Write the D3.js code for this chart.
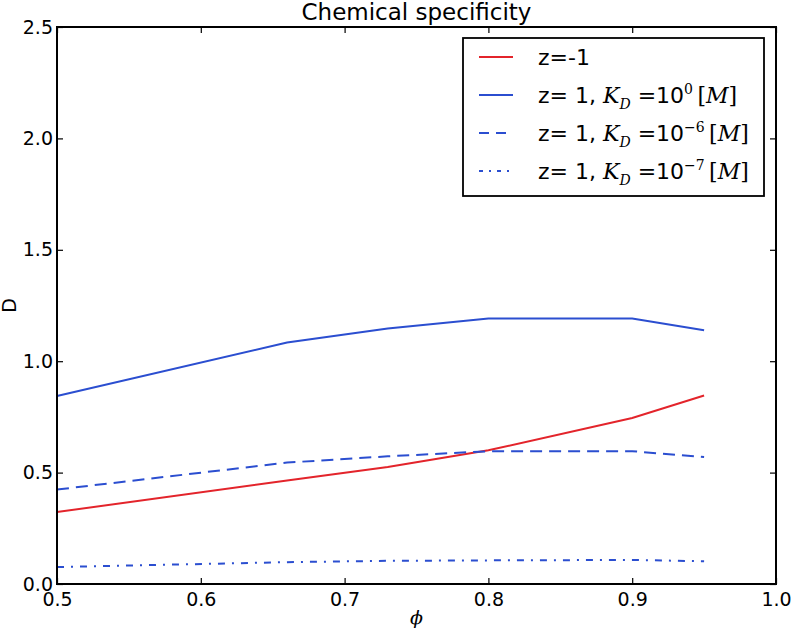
<!DOCTYPE html>
<html>
<head>
<meta charset="utf-8">
<script src="https://cdn.jsdelivr.net/npm/d3@7"></script>
<style>
body { margin: 0; background: #fff; }
text { font-family: "DejaVu Sans", sans-serif; }
</style>
</head>
<body>
<div id="chart"></div>
<script>
// data
var phi = [0.5, 0.66, 0.73, 0.8, 0.9, 0.95];
var zMinus1 = [0.323, 0.465, 0.525, 0.600, 0.745, 0.846];
var kd0 = [0.844, 1.084, 1.147, 1.192, 1.192, 1.139];
var kd6 = [0.424, 0.545, 0.573, 0.596, 0.596, 0.570];
var kd7 = [0.076, 0.098, 0.104, 0.106, 0.108, 0.102];
var xTicks = [0.5, 0.6, 0.7, 0.8, 0.9, 1.0];
var yTicks = [0.0, 0.5, 1.0, 1.5, 2.0, 2.5];

var W = 793, H = 631;
var margin = {top: 27, right: 17, bottom: 47, left: 57};
var width = W - margin.left - margin.right;
var height = H - margin.top - margin.bottom;

var svg = d3.select('#chart').append('svg')
  .attr('width', W).attr('height', H);

var g = svg.append('g')
  .attr('transform', 'translate(' + margin.left + ',' + margin.top + ')');

var x = d3.scaleLinear().domain([0.5, 1.0]).range([0, width]);
var y = d3.scaleLinear().domain([0, 2.5]).range([height, 0]);

var series = [
  {vals: zMinus1, color: '#e3242b', dash: null, ldash: null},
  {vals: kd0, color: '#2b4ed0', dash: null, ldash: null},
  {vals: kd6, color: '#2b4ed0', dash: '12,7', ldash: '10,7'},
  {vals: kd7, color: '#2b4ed0', dash: '7,7,2,7', ldash: '4,6,2,6'}
];

var line = d3.line()
  .x(function(d){ return x(d[0]); })
  .y(function(d){ return y(d[1]); });

series.forEach(function(s){
  g.append('path')
    .datum(phi.map(function(p, i){ return [p, s.vals[i]]; }))
    .attr('fill', 'none')
    .attr('stroke', s.color)
    .attr('stroke-width', 2)
    .attr('stroke-dasharray', s.dash)
    .attr('d', line);
});

// axes with inward ticks on all sides
var fmt = d3.format('.1f');
var tl = 6;
g.append('g').attr('transform', 'translate(0,' + height + ')')
  .call(d3.axisBottom(x).tickValues(xTicks).tickFormat(fmt).tickSizeInner(-tl).tickSizeOuter(0).tickPadding(8.5));
g.append('g').call(d3.axisTop(x).tickValues(xTicks).tickFormat('').tickSizeInner(-tl).tickSizeOuter(0));
g.append('g')
  .call(d3.axisLeft(y).tickValues(yTicks).tickFormat(fmt).tickSizeInner(-tl).tickSizeOuter(0).tickPadding(4));
g.append('g').attr('transform', 'translate(' + width + ',0)')
  .call(d3.axisRight(y).tickValues(yTicks).tickFormat('').tickSizeInner(-tl).tickSizeOuter(0));

g.selectAll('.domain').remove();
g.selectAll('.tick line').attr('stroke', '#000').attr('stroke-width', 1.2);
g.selectAll('.tick text').attr('font-size', 19).attr('fill', '#000')
  .style('font-family', '"DejaVu Sans", sans-serif');

g.append('rect')
  .attr('width', width).attr('height', height)
  .attr('fill', 'none').attr('stroke', '#000').attr('stroke-width', 2);

// title and labels
svg.append('text')
  .attr('x', margin.left + width / 2).attr('y', 20)
  .attr('text-anchor', 'middle').attr('font-size', 23)
  .text('Chemical specificity');

svg.append('text')
  .attr('transform', 'translate(15.5,' + (margin.top + height / 2) + ') rotate(-90)')
  .attr('text-anchor', 'middle').attr('font-size', 19)
  .text('D');

svg.append('text')
  .attr('x', margin.left + width / 2).attr('y', 624)
  .attr('text-anchor', 'middle').attr('font-size', 19)
  .style('font-family', '"DejaVu Serif", serif').style('font-style', 'italic')
  .text('\u03d5');

// legend
var legendLabels = ['z=-1', 'z= 1, ', 'z= 1, ', 'z= 1, '];
var legendExp = [null, '0', '\u22126', '\u22127'];

var lg = svg.append('g').attr('transform', 'translate(463,38)');
lg.append('rect').attr('width', 301).attr('height', 158)
  .attr('fill', '#fff').attr('stroke', '#000').attr('stroke-width', 1.8);

series.forEach(function(s, i){
  var ry = 19 + i * 38;
  lg.append('line')
    .attr('x1', 16).attr('x2', 50).attr('y1', ry).attr('y2', ry)
    .attr('stroke', s.color).attr('stroke-width', 2)
    .attr('stroke-dasharray', s.ldash);
  var t = lg.append('text').attr('x', 75).attr('y', ry + 8).attr('font-size', 22);
  t.append('tspan').text(legendLabels[i]);
  if (legendExp[i] != null) {
    t.append('tspan').style('font-family', '"DejaVu Serif", serif').style('font-style', 'italic').text('K');
    t.append('tspan').attr('dy', 6).attr('font-size', 14)
      .style('font-family', '"DejaVu Serif", serif').style('font-style', 'italic').text('D');
    t.append('tspan').attr('dy', -6).text(' =10');
    t.append('tspan').attr('dy', -9).attr('font-size', 14)
      .style('font-family', '"DejaVu Serif", serif').text(legendExp[i]);
    t.append('tspan').attr('dy', 9)
      .style('font-family', '"DejaVu Serif", serif').text('\u2009[');
    t.append('tspan')
      .style('font-family', '"DejaVu Serif", serif').style('font-style', 'italic').text('M');
    t.append('tspan')
      .style('font-family', '"DejaVu Serif", serif').text(']');
  }
});
</script>
</body>
</html>
